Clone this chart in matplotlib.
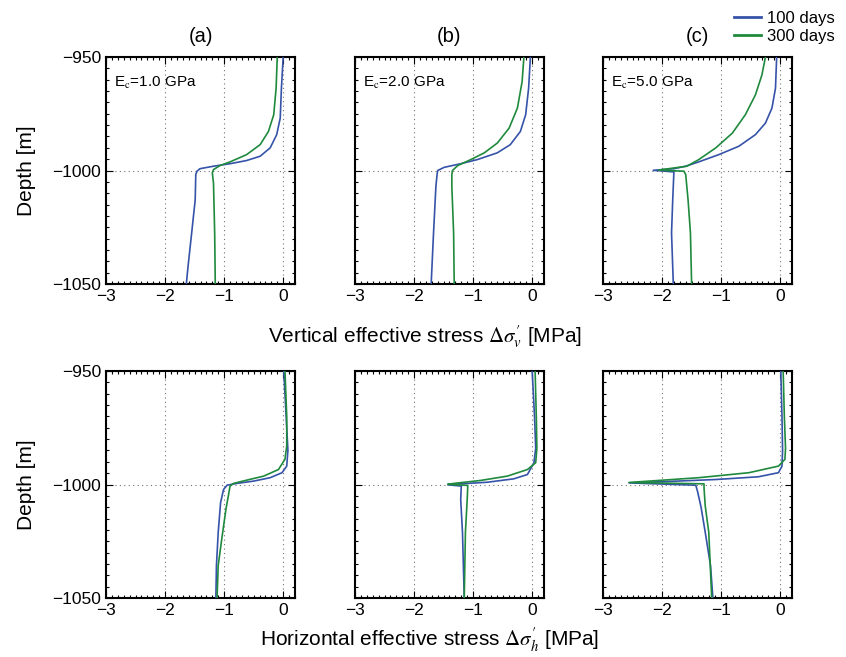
import matplotlib.pyplot as plt
from matplotlib.ticker import MultipleLocator
from matplotlib.lines import Line2D

plt.rcParams["font.family"] = ["Liberation Sans", "DejaVu Sans"]
plt.rcParams["mathtext.fontset"] = "stix"

# Vertical effective stress, E_c = 1.0 GPa
va_100_s = [0.0, -0.03, -0.05, -0.11, -0.22, -0.39, -0.62, -0.90, -1.18, -1.41, -1.46, -1.48,
            -1.49, -1.55, -1.61, -1.64]
va_100_d = [-950, -963.7, -976.9, -984.2, -990, -993.7, -995.6, -997, -998.1, -999.2, -1000.3, -1001.8,
            -1013, -1027.6, -1042, -1050]
va_300_s = [-0.10, -0.12, -0.16, -0.25, -0.39, -0.62, -0.90, -1.07, -1.18, -1.20, -1.18, -1.16, -1.15]
va_300_d = [-950, -963.7, -975.4, -982.8, -988.6, -993, -996.2, -997.8, -999.6, -1001, -1005.6, -1027.6, -1050]

# Vertical effective stress, E_c = 2.0 GPa
vb_100_s = [-0.03, -0.06, -0.11, -0.20, -0.37, -0.59, -0.93, -1.21, -1.49, -1.60, -1.61, -1.63, -1.67, -1.71]
vb_100_d = [-950, -963.7, -975.4, -982.8, -988.6, -992.2, -995.2, -997, -998.6, -1000, -1001.8, -1007,
            -1027.5, -1050]
vb_300_s = [-0.14, -0.17, -0.25, -0.39, -0.59, -0.81, -1.04, -1.26, -1.35, -1.36, -1.36, -1.33, -1.32]
vb_300_d = [-950, -960.8, -972.5, -981.3, -987.9, -992.2, -995.2, -997.8, -1000, -1001.8, -1007, -1027.5, -1050]

# Vertical effective stress, E_c = 5.0 GPa
vc_100_s = [-0.06, -0.08, -0.14, -0.25, -0.42, -0.70, -1.04, -1.38, -1.60, -1.80, -2.15, -1.80, -1.82,
            -1.84, -1.81]
vc_100_d = [-950, -963.7, -972.5, -979.1, -984.2, -989.3, -993, -996.2, -998.1, -999.2, -999.9, -1000.6,
            -1013, -1027.5, -1050]
vc_300_s = [-0.25, -0.31, -0.42, -0.59, -0.81, -1.09, -1.38, -1.58, -2.06, -1.63, -1.60, -1.56, -1.52, -1.50]
vc_300_d = [-950, -957.9, -966.7, -975.4, -983.5, -990, -995.2, -998.1, -999.8, -1000.3, -1001.8, -1013,
            -1027.5, -1050]

# Horizontal effective stress, E_c = 1.0 GPa
ha_100_s = [0.01, 0.05, 0.08, 0.06, -0.02, -0.22, -0.50, -0.78, -0.95, -1.01, -1.06, -1.10, -1.13, -1.14]
ha_100_d = [-950, -970, -985, -991.9, -994.8, -997, -998.5, -999.5, -1000.3, -1002.2, -1008, -1021,
            -1035.7, -1050]
ha_300_s = [0.03, 0.06, 0.06, 0.03, -0.08, -0.33, -0.62, -0.84, -0.90, -0.93, -0.97, -1.04, -1.10, -1.12]
ha_300_d = [-950, -970, -983, -988.9, -993.4, -996.3, -998.1, -999.5, -1000.7, -1005.2, -1011, -1024,
            -1035.7, -1050]

# Horizontal effective stress, E_c = 2.0 GPa
hb_100_s = [0.0, 0.04, 0.06, 0.03, -0.08, -0.31, -0.76, -1.21, -1.43, -1.20, -1.21, -1.18, -1.15]
hb_100_d = [-950, -970, -984, -990.4, -995.6, -997.5, -999, -999.7, -1000.1, -1000.7, -1006.6, -1021, -1050]
hb_300_s = [0.05, 0.07, 0.08, 0.06, -0.08, -0.42, -0.87, -1.32, -1.43, -1.09, -1.10, -1.13, -1.15]
hb_300_d = [-950, -970, -984, -990.4, -993.4, -996.3, -998.2, -999.5, -999.9, -1000.4, -1006.6, -1021, -1050]

# Horizontal effective stress, E_c = 5.0 GPa
hc_100_s = [0.01, 0.03, 0.04, 0.03, -0.03, -0.37, -1.09, -1.94, -2.56, -1.43, -1.40, -1.34, -1.27, -1.18, -1.14]
hc_100_d = [-950, -970, -985, -991.9, -994.8, -996.6, -997.8, -998.7, -999.3, -1000.3, -1003, -1010,
            -1021, -1035.7, -1050]
hc_300_s = [0.05, 0.07, 0.09, 0.08, -0.03, -0.53, -1.38, -2.22, -2.56, -1.29, -1.29, -1.27, -1.21, -1.16]
hc_300_d = [-950, -970, -984, -988.9, -991.9, -994.8, -997, -998.5, -999.1, -999.7, -1001.5, -1009.3,
            -1021, -1050]

panel_titles = ["(a)", "(b)", "(c)"]
modulus_labels = ["E$_\\mathrm{c}$=1.0 GPa", "E$_\\mathrm{c}$=2.0 GPa", "E$_\\mathrm{c}$=5.0 GPa"]
series_labels = ["100 days", "300 days"]
x_ticks = [-3, -2, -1, 0]
y_ticks = [-1050, -1000, -950]

vertical = [
    ((va_100_s, va_100_d), (va_300_s, va_300_d)),
    ((vb_100_s, vb_100_d), (vb_300_s, vb_300_d)),
    ((vc_100_s, vc_100_d), (vc_300_s, vc_300_d)),
]
horizontal = [
    ((ha_100_s, ha_100_d), (ha_300_s, ha_300_d)),
    ((hb_100_s, hb_100_d), (hb_300_s, hb_300_d)),
    ((hc_100_s, hc_100_d), (hc_300_s, hc_300_d)),
]

blue = "#3553a8"
green = "#1f8a3d"

fig = plt.figure(figsize=(8.46, 6.57), dpi=100)

lefts = [0.1253, 0.4196, 0.7128]
width = 0.2234
row_bottoms = [0.5677, 0.0898]
height = 0.3455

for row, data in enumerate([vertical, horizontal]):
    for col in range(3):
        ax = fig.add_axes([lefts[col], row_bottoms[row], width, height])
        (s1, d1), (s2, d2) = data[col]
        ax.plot(s1, d1, color=blue, linewidth=1.2, zorder=3)
        ax.plot(s2, d2, color=green, linewidth=1.2, zorder=3)
        ax.set_xlim(-3, 0.2)
        ax.set_ylim(-1050, -950)
        ax.set_xticks(x_ticks)
        ax.set_yticks(y_ticks)
        ax.xaxis.set_minor_locator(MultipleLocator(0.1))
        ax.yaxis.set_minor_locator(MultipleLocator(5))
        ax.tick_params(which="both", direction="in", top=True, right=True,
                       labelsize=12.5, width=0.8)
        ax.tick_params(which="major", length=5)
        ax.tick_params(which="minor", length=2.5)
        ax.grid(True, which="major", linestyle=(0, (1, 3)), color="0.45", linewidth=0.8)
        for sp in ax.spines.values():
            sp.set_linewidth(1.5)
        if col == 0:
            ax.set_ylabel("Depth [m]", fontsize=15, labelpad=12)
        else:
            ax.tick_params(labelleft=False)
        if row == 0:
            ax.set_title(panel_titles[col], fontsize=14.5, pad=11)
            ax.text(0.04, 0.885, modulus_labels[col], transform=ax.transAxes,
                    fontsize=11, va="center", ha="left")

fig.text(0.502, 0.487, "Vertical effective stress $\\Delta\\sigma_v^{\\prime}$ [MPa]",
         ha="center", va="center", fontsize=15)
fig.text(0.508, 0.026, "Horizontal effective stress $\\Delta\\sigma_h^{\\prime}$ [MPa]",
         ha="center", va="center", fontsize=15)

handles = [Line2D([], [], color=blue, linewidth=2), Line2D([], [], color=green, linewidth=2)]
fig.legend(handles, series_labels, loc="upper right", bbox_to_anchor=(1.0, 1.0),
           frameon=False, fontsize=12, handlelength=1.6, handletextpad=0.4,
           labelspacing=0.2, borderaxespad=0.25)

fig.savefig("out.png", dpi=100)
